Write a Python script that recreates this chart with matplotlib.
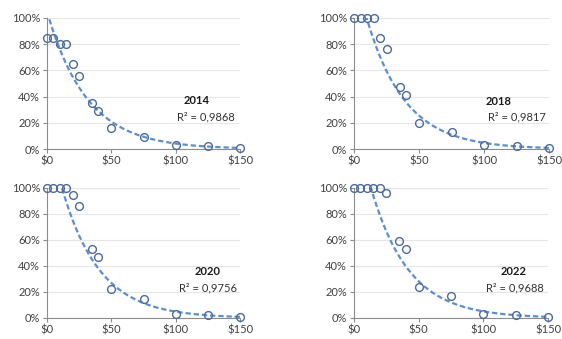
import numpy as np
import matplotlib
matplotlib.use("Agg")
import matplotlib.pyplot as plt
from matplotlib.ticker import PercentFormatter, FuncFormatter

prices = [0, 5, 10, 15, 20, 25, 35, 40, 50, 75, 100, 125, 150]
share_2014 = [0.85, 0.85, 0.80, 0.80, 0.65, 0.56, 0.35, 0.29, 0.16, 0.09, 0.03, 0.02, 0.01]
share_2018 = [1.00, 1.00, 1.00, 1.00, 0.85, 0.76, 0.47, 0.41, 0.20, 0.13, 0.03, 0.02, 0.01]
share_2020 = [1.00, 1.00, 1.00, 1.00, 0.95, 0.86, 0.53, 0.47, 0.22, 0.15, 0.03, 0.02, 0.01]
share_2022 = [1.00, 1.00, 1.00, 1.00, 1.00, 0.96, 0.59, 0.53, 0.24, 0.17, 0.03, 0.02, 0.01]
years = ["2014", "2018", "2020", "2022"]
r2_labels = ["R² = 0,9868", "R² = 0,9817", "R² = 0,9756", "R² = 0,9688"]
x_ticks = [0, 50, 100, 150]
y_ticks = [0, 0.2, 0.4, 0.6, 0.8, 1.0]

series = [share_2014, share_2018, share_2020, share_2022]

plt.rcParams['font.family'] = ['Lato', 'DejaVu Sans']

fig = plt.figure(figsize=(5.62, 3.39), dpi=100)
W, H = 562, 339
boxes = [(47, 18, 240, 149), (354, 18, 549, 149), (47, 188, 240, 318), (354, 188, 548, 318)]
label_pos = [((116.6, 0.374), (123.6, 0.244)),
             ((111.5, 0.359), (125.4, 0.244)),
             ((125.0, 0.354), (125.0, 0.231)),
             ((123.7, 0.354), (124.5, 0.231))]

grid_c = "#e6e6e6"
axis_c = "#8c8c8c"
marker_c = "#4a6b9a"
line_c = "#5b8fd0"

for i, (x0, y0, x1, y1) in enumerate(boxes):
    ax = fig.add_axes([x0 / W, 1 - y1 / H, (x1 - x0) / W, (y1 - y0) / H])
    x = np.array(prices, dtype=float)
    y = np.array(series[i], dtype=float)
    # Excel-style exponential trendline: ln(y) = ln(a) + b*x
    b, lna = np.polyfit(x, np.log(y), 1)
    xs = np.linspace(0, 150, 400)
    ys = np.exp(lna) * np.exp(b * xs)
    ax.plot(xs, ys, linestyle=(0, (2.4, 1.3)), color=line_c, lw=1.6, zorder=2)
    ax.plot(x, y, linestyle="none", marker="o", ms=5.6, mfc="none", mec=marker_c,
            mew=1.0, clip_on=False, zorder=3)
    ax.set_xlim(0, 150)
    ax.set_ylim(0, 1)
    ax.set_xticks(x_ticks)
    ax.set_yticks(y_ticks)
    ax.xaxis.set_major_formatter(FuncFormatter(lambda v, p: f"${v:.0f}"))
    ax.yaxis.set_major_formatter(PercentFormatter(1.0, decimals=0))
    ax.grid(axis="y", color=grid_c, lw=0.8)
    ax.set_axisbelow(True)
    for s in ["top", "right"]:
        ax.spines[s].set_visible(False)
    for s in ["left", "bottom"]:
        ax.spines[s].set_color(axis_c)
        ax.spines[s].set_linewidth(0.8)
    ax.tick_params(axis="both", labelsize=8, colors=axis_c, labelcolor="#404040",
                   length=3, width=0.8, pad=2)
    (tx, ty), (rx, ry) = label_pos[i]
    ax.text(tx, ty, years[i], ha="center", va="center", fontsize=8,
            fontweight="bold", color="#1a1a1a")
    ax.text(rx, ry, r2_labels[i], ha="center", va="center", fontsize=8, color="#333333")

fig.savefig("out.png", dpi=100)
